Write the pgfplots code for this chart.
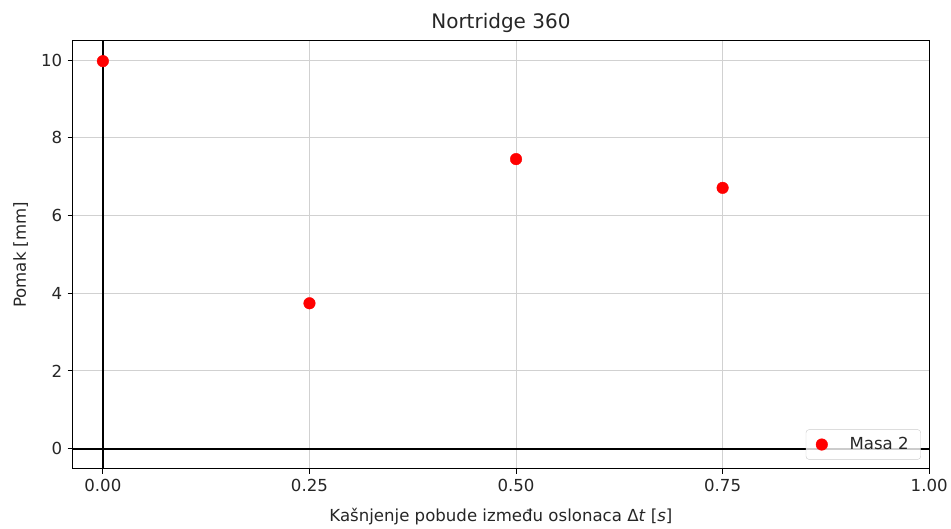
\documentclass[border=0pt]{standalone}
\usepackage{fontspec}
\setmainfont{DejaVu Sans}
\usepackage{pgfplots}
\pgfplotsset{compat=1.18}
\begin{document}
\begin{tikzpicture}[x=1pt,y=1pt]
\begin{axis}[
  name=ax,
  at={(0,0)}, anchor=south west,
  scale only axis,
  width=857.3pt, height=428pt,
  xmin=-0.0366, xmax=1.0,
  ymin=-0.514, ymax=10.49,
  xtick={0,0.25,0.5,0.75,1},
  xticklabels={0.00,0.25,0.50,0.75,1.00},
  ytick={0,2,4,6,8,10},
  /pgf/number format/assume math mode=true,
  tick align=outside,
  tick pos=left,
  major tick length=5pt,
  every tick/.style={black, line width=0.9pt},
  axis line style={black, line width=1pt},
  grid=major,
  major grid style={color=black!18, line width=0.9pt},
  tick label style={font=\fontsize{16.6}{19}\selectfont, text=black!85},
  label style={font=\fontsize{16.6}{19}\selectfont, text=black!85},
  title style={font=\fontsize{20}{23}\selectfont, yshift=-1pt, text=black!85},
  title={Nortridge 360},
  xlabel={Kašnjenje pobude između oslonaca Δ\textit{t} [\textit{s}]},
  ylabel={Pomak [mm]},
  xlabel style={yshift=-10pt},
  ylabel style={yshift=6pt},
  xticklabel style={yshift=-2pt},
  yticklabel style={xshift=-2pt},
  legend style={at={(0.9903,0.021)}, anchor=south east,
    draw=black!20, rounded corners=3pt, fill=white, fill opacity=0.8, text opacity=1, draw opacity=1,
    font=\fontsize{16.6}{19}\selectfont, text=black!85,
    inner xsep=10pt, inner ysep=6pt},
  legend image post style={fill opacity=1, draw opacity=1},
  legend cell align=left,
  clip=false,
]
\addplot[black, line width=1.9pt, forget plot] coordinates {(-0.0366,0) (1.0,0)};
\addplot[black, line width=1.9pt, forget plot] coordinates {(0,-0.514) (0,10.49)};
\addplot[only marks, mark=*, mark size=5.8pt, color=red, mark options={draw=red, fill=red}]
  coordinates {(0,9.97) (0.25,3.74) (0.5,7.45) (0.75,6.71)};
\addlegendentry{\hspace{20pt}Masa 2}
\end{axis}
\path[use as bounding box] (-72.7,-60) rectangle (878.3,469);
\end{tikzpicture}
\end{document}
